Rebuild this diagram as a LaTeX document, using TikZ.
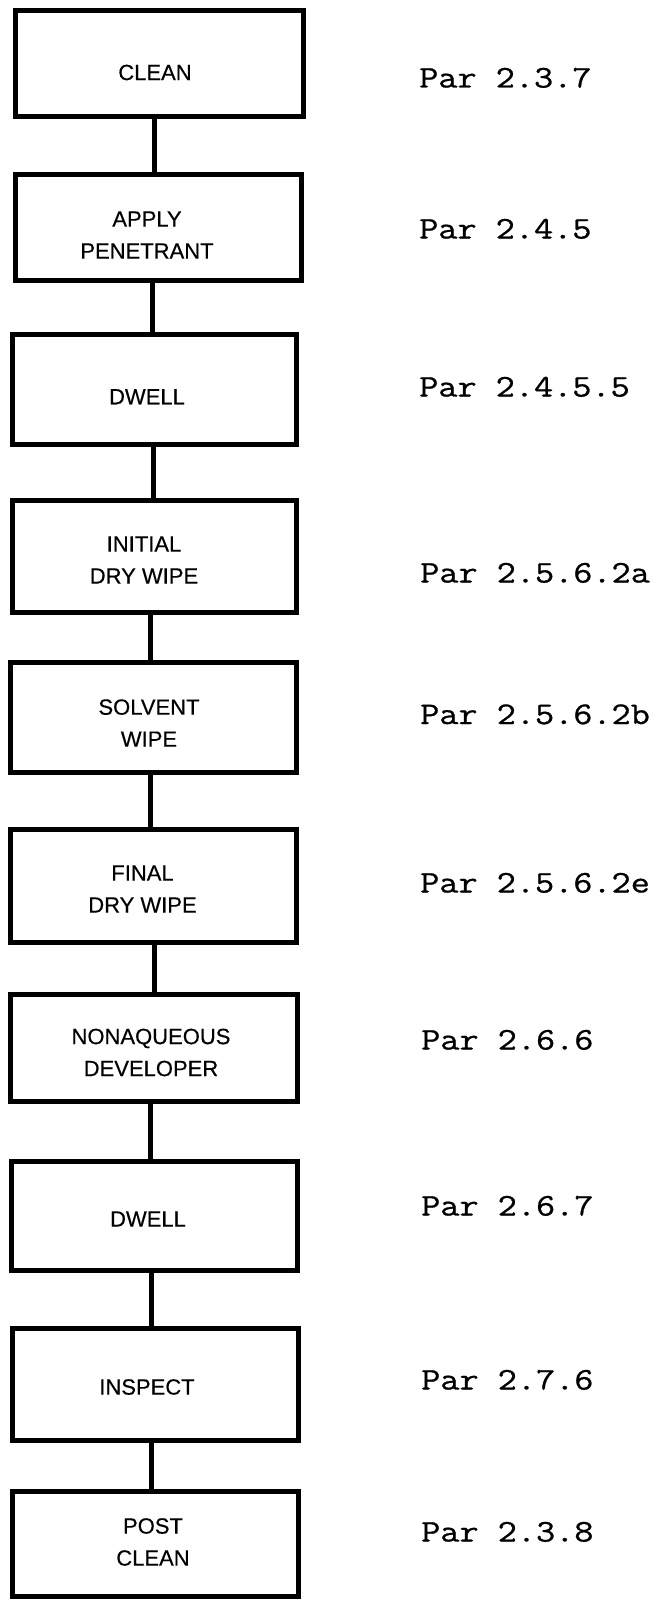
\documentclass[tikz,border=0pt]{standalone}
\usepackage{fontspec}
\setmainfont{Liberation Sans}[BoldFont={Liberation Sans},BoldFeatures={FakeBold=0.4}]
\setmonofont{Latin Modern Mono}[FakeStretch=1.18,FakeBold=0.8]
\begin{document}
\begin{tikzpicture}[x=1pt,y=-1pt,
  stepbox/.style={draw=black,line width=5pt,rectangle,inner sep=0pt,minimum width=#1},
  steptext/.style={align=center,inner sep=0pt,font=\bfseries\fontsize{22}{32}\selectfont},
  partext/.style={anchor=base west,inner sep=0pt,font=\ttfamily\bfseries\fontsize{31.5}{36}\selectfont},
  link/.style={line width=5pt,line cap=butt}]
\useasboundingbox (0,0) rectangle (655,1600);
% boxes: center, width, height
\node[stepbox=288pt,minimum height=106pt] (b1) at (159,63.7) {};
\node[stepbox=286pt,minimum height=106pt] (b2) at (158,227) {};
\node[stepbox=284pt,minimum height=110pt] (b3) at (154,389) {};
\node[stepbox=284pt,minimum height=112pt] (b4) at (154,556) {};
\node[stepbox=286pt,minimum height=110pt] (b5) at (153,717) {};
\node[stepbox=286pt,minimum height=113pt] (b6) at (153,885.5) {};
\node[stepbox=287pt,minimum height=107pt] (b7) at (153.5,1047.5) {};
\node[stepbox=286pt,minimum height=109pt] (b8) at (154,1215.5) {};
\node[stepbox=286pt,minimum height=112pt] (b9) at (155,1384) {};
\node[stepbox=286pt,minimum height=105pt] (b10) at (155,1543.5) {};
% box texts
\node[steptext] (t1) at (155,72.5) {CLEAN};
\node[steptext] (t2) at (147,235) {APPLY\\PENETRANT};
\node[steptext] (t3) at (147,396.7) {DWELL};
\node[steptext] (t4) at (144,560) {INITIAL\\DRY WIPE};
\node[steptext] (t5) at (149,723) {SOLVENT\\WIPE};
\node[steptext] (t6) at (142.5,889) {FINAL\\DRY WIPE};
\node[steptext] (t7) at (151,1052.5) {NONAQUEOUS\\DEVELOPER};
\node[steptext] (t8) at (148,1219) {DWELL};
\node[steptext] (t9) at (147,1387) {INSPECT};
\node[steptext] (t10) at (153,1542) {POST\\CLEAN};
% connectors
\foreach \a/\b/\dx in {b1/b2/-5,b2/b3/-5.5,b3/b4/-1,b4/b5/-4,b5/b6/-3,b6/b7/1,b7/b8/-3.5,b8/b9/-3,b9/b10/-4}
  \draw[link] ([xshift=\dx pt]\a.south) -- ([xshift=\dx pt]\a.south |- \b.north);
% paragraph references
\node[partext] (p1) at (419,87.5) {Par 2.3.7};
\node[partext] (p2) at (419,238.5) {Par 2.4.5};
\node[partext] (p3) at (419,396.5) {Par 2.4.5.5};
\node[partext] (p4) at (420,582.5) {Par 2.5.6.2a};
\node[partext] (p5) at (420,724) {Par 2.5.6.2b};
\node[partext] (p6) at (420,892.5) {Par 2.5.6.2e};
\node[partext] (p7) at (421,1049.5) {Par 2.6.6};
\node[partext] (p8) at (421,1215.5) {Par 2.6.7};
\node[partext] (p9) at (421,1389.5) {Par 2.7.6};
\node[partext] (p10) at (421,1541.5) {Par 2.3.8};
\end{tikzpicture}
\end{document}
